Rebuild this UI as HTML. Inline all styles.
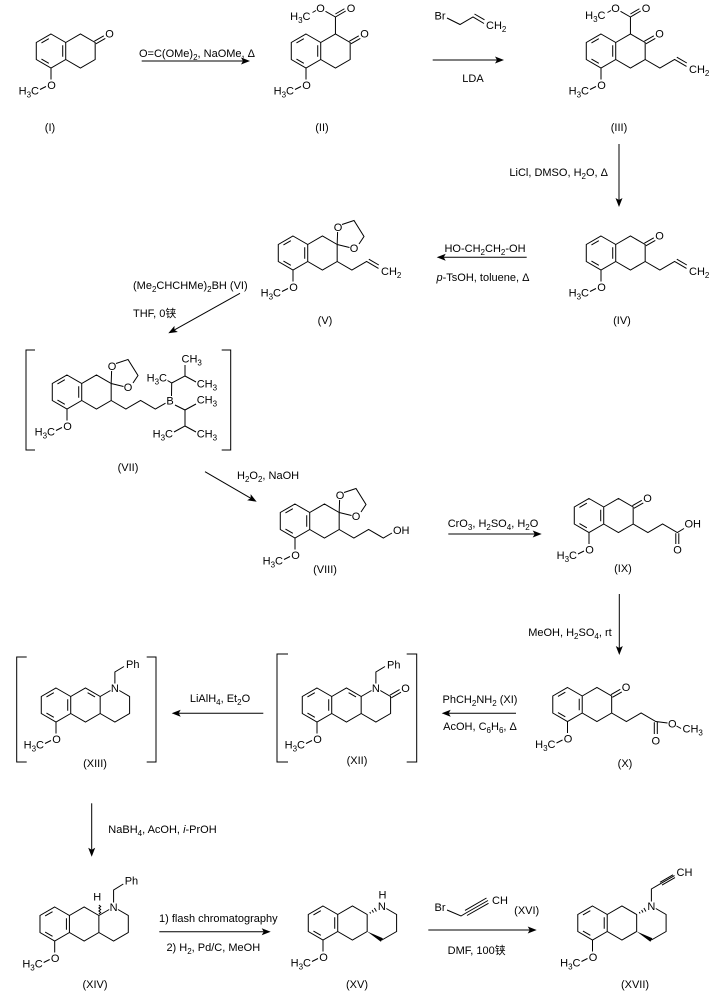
<!DOCTYPE html>
<html><head><meta charset="utf-8"><style>
html,body{margin:0;padding:0;background:#fff;}
svg{display:block}
text{font-family:"Liberation Sans","Noto Sans CJK SC",sans-serif;font-size:11px;fill:#000}
</style></head><body>
<svg width="709" height="991" viewBox="0 0 709 991" xmlns="http://www.w3.org/2000/svg" xmlns:xlink="http://www.w3.org/1999/xlink">
<defs>
<path id="core" stroke="#000" stroke-width="1" fill="none" d="M0,-17L14.72,-8.5L14.72,8.5L0,17L-14.72,8.5L-14.72,-8.5Z M14.72,-8.5L29.44,-17L44.17,-8.5L44.17,8.5L29.44,17L14.72,8.5 M-9.55,-8.02L-2.17,-12.28 M11.72,-5.8L11.72,5.8 M-2.17,12.28L-9.55,8.02 M0,17L0,28.5 M-11,38.5L-5,35.5"/>
<path id="keto" stroke="#000" stroke-width="1" fill="none" d="M44.9,-7.2L54.3,-12.6M43.4,-9.8L52.8,-15.2"/>
<path id="allyl" stroke="#000" stroke-width="1" fill="none" d="M44.17,8.5L58.89,17L73.6,8.5L85.5,15.4M75.8,6.2L85.8,12"/>
<path id="ester" stroke="#000" stroke-width="1" fill="none" d="M29.44,-17L29.44,-34L39.7,-40M29.4,-37L38.4,-42.25M29.44,-34L19.5,-39.7M10,-40.5L6.5,-38.5"/>
<path id="diox" stroke="#000" stroke-width="1" fill="none" d="M44.17,-8.5L44.6,-21M49,-28.5L61,-32.5L71,-16.5L66,-9M56.5,-5.5L44.17,-8.5"/>
<path id="tri" stroke="#000" stroke-width="1" fill="none" d="M44.17,-8.5L54.5,-14.5M63.3,-14.5L73.6,-8.5L73.6,8.5L58.89,17L44.17,8.5"/>
<path id="nup" stroke="#000" stroke-width="1" fill="none" d="M58.89,-21.5L58.89,-33L68,-38.5"/>
<path id="mid" stroke="#000" stroke-width="1" fill="none" d="M31.6,-12.28L39,-8.02"/>
<path id="co" stroke="#000" stroke-width="1" fill="none" d="M74.3,-7.2L84,-12.8M72.9,-9.8L82.6,-15.4"/>
<g id="tri2">
<path stroke="#000" stroke-width="1" fill="none" d="M63.3,-14.5L73.6,-8.5L73.6,8.5L58.89,17 M46.8,-10.94L47.6,-9.56M49.1,-12.96L50.5,-10.54M51.4,-14.98L53.4,-11.52"/>
<polygon fill="#000" points="44.17,8.5 59.89,15.27 57.89,18.73"/>
</g>
</defs>

<!-- Compound I -->
<g transform="translate(51,51)">
<use href="#core"/><use href="#keto"/>
<text x="58.5" y="-13.5" text-anchor="middle">O</text>
<text x="0.5" y="38" text-anchor="middle">O</text>
<text x="-12" y="43.5" text-anchor="end">H<tspan dy="3" font-size="8">3</tspan><tspan dy="-3">C</tspan></text>
</g>
<text x="50" y="131" text-anchor="middle">(I)</text>

<!-- Arrow 1 -->
<path stroke="#000" stroke-width="1" fill="none" d="M141.7,61L243,61"/>
<polygon points="250,61 241,57.5 243,61 241,64.5" fill="#000"/>
<text x="197" y="57" text-anchor="middle">O=C(OMe)<tspan dy="3" font-size="8">2</tspan><tspan dy="-3">, NaOMe, Δ</tspan></text>

<!-- Compound II -->
<g transform="translate(306,51)">
<use href="#core"/><use href="#keto"/><use href="#ester"/>
<text x="58.5" y="-13.5" text-anchor="middle">O</text>
<text x="45" y="-39" text-anchor="middle">O</text>
<text x="14.5" y="-39" text-anchor="middle">O</text>
<text x="4.5" y="-31" text-anchor="end">H<tspan dy="3" font-size="8">3</tspan><tspan dy="-3">C</tspan></text>
<text x="0.5" y="38" text-anchor="middle">O</text>
<text x="-12" y="43.5" text-anchor="end">H<tspan dy="3" font-size="8">3</tspan><tspan dy="-3">C</tspan></text>
</g>
<text x="322" y="131" text-anchor="middle">(II)</text>

<!-- Arrow 2 -->
<text x="440" y="19.5" text-anchor="middle">Br</text>
<path stroke="#000" stroke-width="1" fill="none" d="M447,18L460,24.5L473,17L484,23.5M474.5,14L484.5,19.8"/>
<text x="486" y="29">CH<tspan dy="3" font-size="8">2</tspan></text>
<path stroke="#000" stroke-width="1" fill="none" d="M432.7,60L497,60"/>
<polygon points="504,60 495,56.5 497,60 495,63.5" fill="#000"/>
<text x="473" y="82" text-anchor="middle">LDA</text>

<!-- Compound III -->
<g transform="translate(601,51)">
<use href="#core"/><use href="#keto"/><use href="#ester"/><use href="#allyl"/>
<text x="58.5" y="-13.5" text-anchor="middle">O</text>
<text x="45" y="-39" text-anchor="middle">O</text>
<text x="14.5" y="-39" text-anchor="middle">O</text>
<text x="4.5" y="-32" text-anchor="end">H<tspan dy="3" font-size="8">3</tspan><tspan dy="-3">C</tspan></text>
<text x="88" y="22">CH<tspan dy="3" font-size="8">2</tspan></text>
<text x="0.5" y="38" text-anchor="middle">O</text>
<text x="-12" y="43.5" text-anchor="end">H<tspan dy="3" font-size="8">3</tspan><tspan dy="-3">C</tspan></text>
</g>
<text x="619" y="131" text-anchor="middle">(III)</text>

<!-- Arrow 3 -->
<path stroke="#000" stroke-width="1" fill="none" d="M619,144L619,200"/>
<polygon points="619,207 615.5,198 619,200 622.5,198" fill="#000"/>
<text x="608" y="176" text-anchor="end">LiCl, DMSO, H<tspan dy="3" font-size="8">2</tspan><tspan dy="-3">O, Δ</tspan></text>

<!-- Compound IV -->
<g transform="translate(601,253)">
<use href="#core"/><use href="#keto"/><use href="#allyl"/>
<text x="58.5" y="-13.5" text-anchor="middle">O</text>
<text x="88" y="22">CH<tspan dy="3" font-size="8">2</tspan></text>
<text x="0.5" y="38" text-anchor="middle">O</text>
<text x="-12" y="43.5" text-anchor="end">H<tspan dy="3" font-size="8">3</tspan><tspan dy="-3">C</tspan></text>
</g>
<text x="622" y="324" text-anchor="middle">(IV)</text>

<!-- Arrow 4 -->
<path stroke="#000" stroke-width="1" fill="none" d="M526.7,257.3L443.7,257.3"/>
<polygon points="436.7,257.3 445.7,253.8 443.7,257.3 445.7,260.8" fill="#000"/>
<text x="485" y="252" text-anchor="middle">HO-CH<tspan dy="3" font-size="8">2</tspan><tspan dy="-3">CH</tspan><tspan dy="3" font-size="8">2</tspan><tspan dy="-3">-OH</tspan></text>
<text x="483" y="281" text-anchor="middle"><tspan font-style="italic">p</tspan>-TsOH, toluene, Δ</text>

<!-- Compound V -->
<g transform="translate(293,253)">
<use href="#core"/><use href="#diox"/><use href="#allyl"/>
<text x="45" y="-22" text-anchor="middle">O</text>
<text x="61" y="-1" text-anchor="middle">O</text>
<text x="88" y="22">CH<tspan dy="3" font-size="8">2</tspan></text>
<text x="0.5" y="38" text-anchor="middle">O</text>
<text x="-12" y="43.5" text-anchor="end">H<tspan dy="3" font-size="8">3</tspan><tspan dy="-3">C</tspan></text>
</g>
<text x="325" y="324" text-anchor="middle">(V)</text>

<!-- Arrow 5 -->
<text x="133" y="289">(Me<tspan dy="3" font-size="8">2</tspan><tspan dy="-3">CHCHMe)</tspan><tspan dy="3" font-size="8">2</tspan><tspan dy="-3">BH (VI)</tspan></text>
<text x="133" y="317">THF, 0铗</text>
<path stroke="#000" stroke-width="1" fill="none" d="M240,293.3L174.4,329.9"/>
<polygon points="168.3,333.3 177.86,331.98 174.41,329.89 174.46,325.86" fill="#000"/>

<!-- Compound VII -->
<path stroke="#000" stroke-width="1" fill="none" d="M35,350L26,350L26,450L35,450M221.7,350L230.7,350L230.7,450L221.7,450"/>
<g transform="translate(67,392)">
<use href="#core"/><use href="#diox"/>
<path stroke="#000" stroke-width="1" fill="none" d="M44.17,8.5L58.89,17L73.6,8.5L88.3,17L98.5,11.2 M104.5,4L104.7,-9L100.5,-11.5 M104.7,-9L118,-16L118,-27 M118,-16L129,-10 M108,13L118,18L129,12 M118,18L118,34L107,40 M118,34L129,40"/>
<text x="45" y="-22" text-anchor="middle">O</text>
<text x="61" y="-1" text-anchor="middle">O</text>
<text x="103" y="12.5" text-anchor="middle">B</text>
<text x="100" y="-10.7" text-anchor="end">H<tspan dy="3" font-size="8">3</tspan><tspan dy="-3">C</tspan></text>
<text x="114.5" y="-29.7">CH<tspan dy="3" font-size="8">3</tspan></text>
<text x="129.7" y="-4.7">CH<tspan dy="3" font-size="8">3</tspan></text>
<text x="129.7" y="11.3">CH<tspan dy="3" font-size="8">3</tspan></text>
<text x="106" y="45.3" text-anchor="end">H<tspan dy="3" font-size="8">3</tspan><tspan dy="-3">C</tspan></text>
<text x="129.7" y="45.3">CH<tspan dy="3" font-size="8">3</tspan></text>
<text x="0.5" y="38" text-anchor="middle">O</text>
<text x="-12" y="43.5" text-anchor="end">H<tspan dy="3" font-size="8">3</tspan><tspan dy="-3">C</tspan></text>
</g>
<text x="128" y="471" text-anchor="middle">(VII)</text>

<!-- Arrow 6 -->
<path stroke="#000" stroke-width="1" fill="none" d="M205,471.7L250.65,498.2"/>
<polygon points="256.7,501.7 250.66,494.17 250.64,498.19 247.14,500.23" fill="#000"/>
<text x="237" y="479">H<tspan dy="3" font-size="8">2</tspan><tspan dy="-3">O</tspan><tspan dy="3" font-size="8">2</tspan><tspan dy="-3">, NaOH</tspan></text>

<!-- Compound VIII -->
<g transform="translate(295,521)">
<use href="#core"/><use href="#diox"/>
<path stroke="#000" stroke-width="1" fill="none" d="M44.17,8.5L58.89,17L73.6,8.5L88.3,17L97,12"/>
<text x="45" y="-22" text-anchor="middle">O</text>
<text x="61" y="-1" text-anchor="middle">O</text>
<text x="98" y="13">OH</text>
<text x="0.5" y="38" text-anchor="middle">O</text>
<text x="-12" y="43.5" text-anchor="end">H<tspan dy="3" font-size="8">3</tspan><tspan dy="-3">C</tspan></text>
</g>
<text x="325" y="573" text-anchor="middle">(VIII)</text>

<!-- Arrow 7 -->
<path stroke="#000" stroke-width="1" fill="none" d="M448.3,534L534.7,534"/>
<polygon points="541.7,534 532.7,530.5 534.7,534 532.7,537.5" fill="#000"/>
<text x="493" y="527" text-anchor="middle">CrO<tspan dy="3" font-size="8">3</tspan><tspan dy="-3">, H</tspan><tspan dy="3" font-size="8">2</tspan><tspan dy="-3">SO</tspan><tspan dy="3" font-size="8">4</tspan><tspan dy="-3">, H</tspan><tspan dy="3" font-size="8">2</tspan><tspan dy="-3">O</tspan></text>

<!-- Compound IX -->
<g transform="translate(589,515.5)">
<use href="#core"/><use href="#keto"/>
<path stroke="#000" stroke-width="1" fill="none" d="M44.17,8.5L58.89,17L73.6,8.5L88.3,17L95,13 M86.8,17.8L86.8,28.5M89.8,17.8L89.8,28.5"/>
<text x="58.5" y="-13.5" text-anchor="middle">O</text>
<text x="95.5" y="12">OH</text>
<text x="88.5" y="38" text-anchor="middle">O</text>
<text x="0.5" y="38" text-anchor="middle">O</text>
<text x="-12" y="43.5" text-anchor="end">H<tspan dy="3" font-size="8">3</tspan><tspan dy="-3">C</tspan></text>
</g>
<text x="623" y="572" text-anchor="middle">(IX)</text>

<!-- Arrow 8 -->
<path stroke="#000" stroke-width="1" fill="none" d="M619.3,594L619.3,648"/>
<polygon points="619.3,655 615.8,646 619.3,648 622.8,646" fill="#000"/>
<text x="611.7" y="636" text-anchor="end">MeOH, H<tspan dy="3" font-size="8">2</tspan><tspan dy="-3">SO</tspan><tspan dy="3" font-size="8">4</tspan><tspan dy="-3">, rt</tspan></text>

<!-- Compound X -->
<g transform="translate(567.5,704.5)">
<use href="#core"/><use href="#keto"/>
<path stroke="#000" stroke-width="1" fill="none" d="M44.17,8.5L58.89,17L73.6,8.5L88.3,17L100,18.5 M86.8,17.8L86.8,29.5M89.8,17.8L89.8,29.5 M109,21.5L113.5,24"/>
<text x="58.5" y="-13.5" text-anchor="middle">O</text>
<text x="88.3" y="40" text-anchor="middle">O</text>
<text x="104.8" y="22.8" text-anchor="middle">O</text>
<text x="115" y="28">CH<tspan dy="3" font-size="8">3</tspan></text>
<text x="0.5" y="38" text-anchor="middle">O</text>
<text x="-12" y="43.5" text-anchor="end">H<tspan dy="3" font-size="8">3</tspan><tspan dy="-3">C</tspan></text>
</g>
<text x="625" y="767" text-anchor="middle">(X)</text>

<!-- Arrow 9 -->
<path stroke="#000" stroke-width="1" fill="none" d="M516,713.3L448.7,713.3"/>
<polygon points="441.7,713.3 450.7,709.8 448.7,713.3 450.7,716.8" fill="#000"/>
<text x="480" y="703" text-anchor="middle">PhCH<tspan dy="3" font-size="8">2</tspan><tspan dy="-3">NH</tspan><tspan dy="3" font-size="8">2</tspan><tspan dy="-3"> (XI)</tspan></text>
<text x="480" y="730" text-anchor="middle">AcOH, C<tspan dy="3" font-size="8">6</tspan><tspan dy="-3">H</tspan><tspan dy="3" font-size="8">6</tspan><tspan dy="-3">, Δ</tspan></text>

<!-- Compound XII -->
<path stroke="#000" stroke-width="1" fill="none" d="M288,654L277,654L277,762L288,762M406.7,654L416.7,654L416.7,762L406.7,762"/>
<g transform="translate(317,705)">
<use href="#core"/><use href="#tri"/><use href="#nup"/><use href="#mid"/><use href="#co"/>
<text x="58.89" y="-13" text-anchor="middle">N</text>
<text x="70" y="-36.5">Ph</text>
<text x="88.5" y="-13" text-anchor="middle">O</text>
<text x="0.5" y="38" text-anchor="middle">O</text>
<text x="-12" y="43.5" text-anchor="end">H<tspan dy="3" font-size="8">3</tspan><tspan dy="-3">C</tspan></text>
</g>
<text x="357" y="764" text-anchor="middle">(XII)</text>

<!-- Arrow 10 -->
<path stroke="#000" stroke-width="1" fill="none" d="M263.3,713.3L178.7,713.3"/>
<polygon points="171.7,713.3 180.7,709.8 178.7,713.3 180.7,716.8" fill="#000"/>
<text x="220" y="702" text-anchor="middle">LiAlH<tspan dy="3" font-size="8">4</tspan><tspan dy="-3">, Et</tspan><tspan dy="3" font-size="8">2</tspan><tspan dy="-3">O</tspan></text>

<!-- Compound XIII -->
<path stroke="#000" stroke-width="1" fill="none" d="M26.7,657L16.7,657L16.7,762L26.7,762M146.7,657L156,657L156,762L146.7,762"/>
<g transform="translate(56,705)">
<use href="#core"/><use href="#tri"/><use href="#nup"/><use href="#mid"/>
<text x="58.89" y="-13" text-anchor="middle">N</text>
<text x="70" y="-37">Ph</text>
<text x="0.5" y="38" text-anchor="middle">O</text>
<text x="-12" y="43.5" text-anchor="end">H<tspan dy="3" font-size="8">3</tspan><tspan dy="-3">C</tspan></text>
</g>
<text x="95" y="767" text-anchor="middle">(XIII)</text>

<!-- Arrow 11 -->
<path stroke="#000" stroke-width="1" fill="none" d="M91.7,803.3L91.7,849.7"/>
<polygon points="91.7,856.7 88.2,847.7 91.7,849.7 95.2,847.7" fill="#000"/>
<text x="108.3" y="833">NaBH<tspan dy="3" font-size="8">4</tspan><tspan dy="-3">, AcOH, </tspan><tspan font-style="italic">i</tspan>-PrOH</text>

<!-- Compound XIV -->
<g transform="translate(54.7,924)">
<use href="#core"/><use href="#tri"/>
<path stroke="#000" stroke-width="1" fill="none" d="M58.89,-21.5L58.89,-34L68.6,-40 M44.17,-10l1.8,-1.5l-1.8,-1.5l1.8,-1.5l-1.8,-1.5l1.8,-1.5l-1.8,-1.5"/>
<text x="58.89" y="-13" text-anchor="middle">N</text>
<text x="42.5" y="-23.5" text-anchor="middle">H</text>
<text x="70" y="-39.5">Ph</text>
<text x="0.5" y="38" text-anchor="middle">O</text>
<text x="-12" y="43.5" text-anchor="end">H<tspan dy="3" font-size="8">3</tspan><tspan dy="-3">C</tspan></text>
</g>
<text x="95" y="988" text-anchor="middle">(XIV)</text>

<!-- Arrow 12 -->
<path stroke="#000" stroke-width="1" fill="none" d="M159.3,931.7L263.7,931.7"/>
<polygon points="270.7,931.7 261.7,928.2 263.7,931.7 261.7,935.2" fill="#000"/>
<text x="218.3" y="922" text-anchor="middle">1) flash chromatography</text>
<text x="213.3" y="951" text-anchor="middle">2) H<tspan dy="3" font-size="8">2</tspan><tspan dy="-3">, Pd/C, MeOH</tspan></text>

<!-- Compound XV -->
<g transform="translate(323,923)">
<use href="#core"/><use href="#tri2"/>
<text x="58.89" y="-13" text-anchor="middle">N</text>
<text x="59.5" y="-24.5" text-anchor="middle">H</text>
<text x="0.5" y="38" text-anchor="middle">O</text>
<text x="-12" y="43.5" text-anchor="end">H<tspan dy="3" font-size="8">3</tspan><tspan dy="-3">C</tspan></text>
</g>
<text x="357" y="988" text-anchor="middle">(XV)</text>

<!-- Arrow 13 -->
<text x="440" y="911" text-anchor="middle">Br</text>
<path stroke="#000" stroke-width="1" fill="none" d="M447,910L461,916L466,913 M466,913L488,900.5 M467,915.5L488.5,903.3 M465,910.4L486.5,898"/>
<text x="492" y="904">CH</text>
<text x="526.7" y="914" text-anchor="middle">(XVI)</text>
<path stroke="#000" stroke-width="1" fill="none" d="M428.3,930L529.7,930"/>
<polygon points="536.7,930 527.7,926.5 529.7,930 527.7,933.5" fill="#000"/>
<text x="476.7" y="954" text-anchor="middle">DMF, 100铗</text>

<!-- Compound XVII -->
<g transform="translate(592.5,923)">
<use href="#core"/><use href="#tri2"/>
<path stroke="#000" stroke-width="1" fill="none" d="M58.89,-21.5L58.89,-34L68,-39.3L82,-47.4 M69.5,-37.9L82.5,-45.4 M67.5,-40.7L80.5,-48.2"/>
<text x="58.89" y="-13" text-anchor="middle">N</text>
<text x="84" y="-47">CH</text>
<text x="0.5" y="38" text-anchor="middle">O</text>
<text x="-12" y="43.5" text-anchor="end">H<tspan dy="3" font-size="8">3</tspan><tspan dy="-3">C</tspan></text>
</g>
<text x="635" y="988" text-anchor="middle">(XVII)</text>
</svg>
</body></html>
